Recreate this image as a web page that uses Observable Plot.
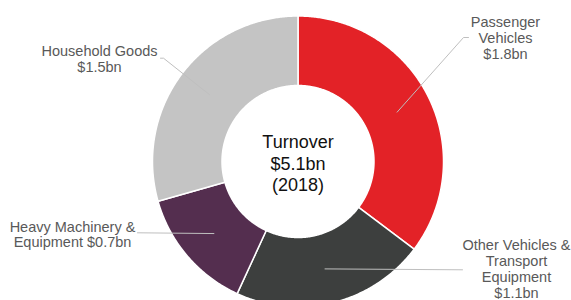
<!DOCTYPE html>
<html><head><meta charset="utf-8">
<script src="https://cdn.jsdelivr.net/npm/d3@7"></script>
<script src="https://cdn.jsdelivr.net/npm/@observablehq/plot@0.6"></script>
<style>body{margin:0;background:#fff}</style>
</head><body><div id="chart"></div>
<script>
// ---- data ----
const categories = ["Passenger Vehicles", "Other Vehicles & Transport Equipment", "Heavy Machinery & Equipment", "Household Goods"];
const values = [1.8, 1.1, 0.7, 1.5];
const labelTexts = ["Passenger\nVehicles\n$1.8bn", "Other Vehicles &\nTransport\nEquipment\n$1.1bn", "Heavy Machinery &\nEquipment $0.7bn", "Household Goods\n$1.5bn"];
const colors = ["#e32227", "#3d3f3e", "#542e4f", "#c4c4c4"];
const centerText = "Turnover\n$5.1bn\n(2018)";

// ---- layout ----
const W = 571, H = 300, cx = 297.5, cy = 161, rOuter = 145.5, rInner = 76;
const rLead = (rOuter + rInner) / 2;
const labelLayout = [
  {x: 505, y: 37.5, pts: [[463, 37], [468, 37]]},
  {x: 516, y: 268.5, pts: [[462, 269.3]]},
  {x: 72, y: 234, pts: [[137, 232.3]]},
  {x: 99, y: 58.5, pts: [[163, 57.7], [160, 57.7]]}
];

const pie = d3.pie().sort(null).value(d => d)(values);
const polar = (r, a) => ({x: cx + r * Math.sin(a), y: cy - r * Math.cos(a)});

const slicePts = [];
pie.forEach((p, i) => {
  const n = Math.max(2, Math.ceil((p.endAngle - p.startAngle) / (Math.PI / 360)));
  for (let k = 0; k <= n; k++) {
    const a = p.startAngle + (p.endAngle - p.startAngle) * k / n;
    slicePts.push({cat: categories[i], ...polar(rOuter, a)});
  }
  for (let k = n; k >= 0; k--) {
    const a = p.startAngle + (p.endAngle - p.startAngle) * k / n;
    slicePts.push({cat: categories[i], ...polar(rInner, a)});
  }
});

const leaderPts = [];
pie.forEach((p, i) => {
  const mid = (p.startAngle + p.endAngle) / 2;
  leaderPts.push({cat: categories[i], ...polar(rLead, mid)});
  labelLayout[i].pts.forEach(([x, y]) => leaderPts.push({cat: categories[i], x, y}));
});

const labelData = categories.map((c, i) => ({cat: c, text: labelTexts[i], x: labelLayout[i].x, y: labelLayout[i].y}));

const chart = Plot.plot({
  width: W, height: H,
  marginTop: 0, marginRight: 0, marginBottom: 0, marginLeft: 0,
  x: {domain: [0, W], range: [0, W], axis: null},
  y: {domain: [0, H], range: [0, H], axis: null},
  color: {domain: categories, range: colors},
  style: {fontFamily: "Arial, 'Liberation Sans', sans-serif", background: "#fff"},
  marks: [
    Plot.line(slicePts, {x: "x", y: "y", z: "cat", fill: "cat", stroke: "#fff", strokeWidth: 1.5, curve: "linear-closed"}),
    Plot.line(leaderPts, {x: "x", y: "y", z: "cat", stroke: "#bfbfbf", strokeWidth: 1}),
    Plot.text(labelData, {x: "x", y: "y", text: "text", fontSize: 14.5, lineHeight: 1.09, fill: "#595959", textAnchor: "middle"}),
    Plot.text([centerText], {x: () => cx, y: () => 162, text: d => d, fontSize: 18, lineHeight: 1.22, fill: "#111"})
  ]
});
document.getElementById("chart").append(chart);
</script>
</body></html>
